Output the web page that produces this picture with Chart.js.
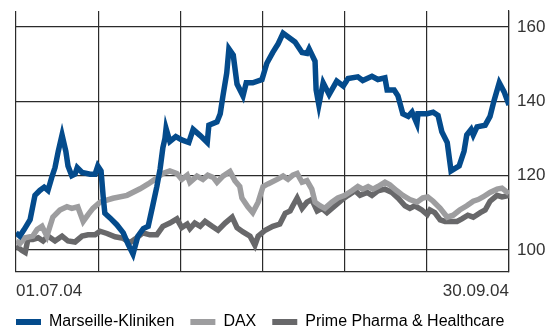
<!DOCTYPE html>
<html>
<head>
<meta charset="utf-8">
<script src="https://cdn.jsdelivr.net/npm/chart.js@4"></script>
<style>
  html, body { margin: 0; padding: 0; background: #fff; }
  #wrap { width: 553px; height: 329px; }
</style>
</head>
<body>
<div id="wrap"><canvas id="myChart"></canvas></div>
<script>
// Kursverlauf 01.07.04 - 30.09.04, indexiert (x = Tage seit 01.07.04)
var namen = ['Marseille-Kliniken', 'DAX', 'Prime Pharma & Healthcare'];
var farben = ['#044b8c', '#9d9d9f', '#68686a'];

var mkTag = [0,0.7,1.5,2.6,3.5,4.4,5.2,5.9,6.6,7.2,7.8,8.5,9.2,9.6,10.3,10.9,11.3,12.2,13.7,14.6,15.1,15.7,16.1,16.4,17.4,18.6,19.8,20.7,21.6,22.5,23.5,24.4,25.3,26.0,26.6,27.1,27.5,27.7,28.4,29.5,30.6,31.9,32.7,34.0,35.3,35.6,37.1,37.7,38.2,38.9,39.3,40.1,40.8,41.9,42.5,43.7,45.4,46.3,47.4,48.4,49.3,51.5,52.8,53.7,54.1,55.2,55.4,55.9,56.7,57.8,59.2,60.4,61.3,63.1,64.0,65.7,66.8,68.1,68.5,69.8,70.5,71.4,72.4,73.1,74.0,74.2,75.9,77.0,77.9,78.6,79.6,80.3,81.8,82.7,83.2,84.0,84.4,85.1,86.6,87.5,88.2,89.2,90.1,91];
var mkWert = [102,101,103,106,113.5,115,116,115,119,122,127,132,127,122.5,119.5,120,122,120.5,120,120,122.5,121,113,108,106.5,104.5,102,98.5,95.5,101,103.3,104,110.8,116.2,121.6,128,131,134,130,131.5,130.5,129.7,133.7,131.8,129.7,135,136,138.5,144,151,158.4,156.5,147.6,144,148,148,149,154,157.3,160,163.2,160.5,157.3,157,158.4,154.6,145.8,141.2,148,144.4,148.5,147,149.3,149.8,148.7,150,149,149.5,145.8,145.8,144,138.5,137.7,139,135.5,138.5,138.5,139,138,133,129.7,121,122.5,127,132,133.7,132,134.5,135,137.7,142.3,148,145.2,141.2];

var daxTag = [0,0.7,1.7,3.1,3.9,4.8,5.7,6.8,8.1,9.4,10.3,11.4,12.4,13.3,14.2,15.5,17.9,20.5,22.9,24.4,25.3,26.2,27.1,28.4,29.7,30.6,31.6,32.1,33.4,34.5,35.4,36.4,37.1,38.2,39.5,40.4,41.3,41.7,42.8,43.7,44.7,45.6,46.5,48.2,49.3,50.2,51.1,51.9,52.8,53.7,54.6,55.2,56.1,57.0,58.3,59.4,60.7,62.0,63.1,64.0,65.0,65.9,66.8,68.1,69.0,70.3,71.4,72.7,74.0,75.1,76.0,77.0,78.3,79.6,80.7,81.9,83.2,84.4,85.3,86.2,87.5,88.8,89.7,91];
var daxWert = [99.5,98.7,100.5,101,103,104,101,106.8,109,110,109.5,110,105.5,107.6,109.5,111.4,112.6,113.5,115.5,117,118,119,120.2,121,120.2,118.4,119.7,117.5,119.4,118.4,119.7,119,117.5,119.4,120.8,118,116.2,112.7,110,108.2,111.4,116.2,117,118.4,119.4,118.4,119.7,120.2,117.5,118,115.4,111.4,110.3,109.5,111.4,112.7,113.5,114.9,116.2,115.4,116.2,115.4,116.2,117.5,116.7,114.9,113.5,112.2,111.4,112.7,113,111.7,109.5,106.8,107.4,109,110.3,111.7,112.2,113,114.4,115.4,115.7,114];

var ppTag = [0,1.1,1.7,2.2,3.1,4.1,5.0,5.9,7.2,8.5,9.6,10.9,12.2,13.3,14.6,15.5,16.8,18.3,19.8,21.0,22.3,23.4,24.7,26.0,27.1,28.4,29.7,30.6,31.6,32.1,33.0,34.0,34.9,36.2,37.3,38.6,39.9,40.8,41.9,43.2,44.1,44.7,46.0,47.4,48.7,49.7,50.6,51.1,51.9,52.8,53.7,54.6,55.6,56.5,57.4,58.9,60.2,61.3,62.6,63.5,64.8,65.7,66.8,68.1,69.4,70.5,71.8,72.7,73.6,74.9,75.9,76.4,77.3,78.3,79.2,80.1,81.4,82.3,83.4,84.4,85.7,86.6,87.5,88.8,89.7,91];
var ppWert = [98,96.6,96,100,100,100.5,99.5,101,99.5,101,99.5,99.2,101,101.4,101.4,102.5,101.8,100.8,100.3,99,100.5,102,101.4,101.4,104,105,106.3,103.6,104.7,103.3,105,104,105.5,104,102.8,105,106.8,103.6,102.3,101,98.2,101,102.8,104,104.7,108,108.7,110.3,112.7,109.5,111.4,112.2,108.7,109.5,108.2,110.3,112.2,113.5,114.9,113.5,114.4,113.5,114.9,115.4,114.4,112.7,110.3,109.5,110.3,109,107.6,109,108.2,106,105.5,105.5,105.5,106.3,107.4,106.8,108.2,109,111.7,113.5,113,113.5];

var xTicks = [0, 91/6, 2*91/6, 3*91/6, 4*91/6, 5*91/6, 91];
var xLabels = ['01.07.04', '', '', '', '', '', '30.09.04'];
var yTicks = [100, 120, 140, 160];

function punkte(tage, werte){
    return tage.map(function(t, i){ return {x: t, y: werte[i]}; });
}

var reihen = [punkte(mkTag, mkWert), punkte(daxTag, daxWert), punkte(ppTag, ppWert)];

var gitter = '#2b2b2b';
var schrift = 'Liberation Sans, Arial, sans-serif';

const ctx = document.getElementById('myChart');
const myChart = new Chart(ctx, {
    type: 'line',
    data: {
        datasets: reihen.map(function(r, i){
            return {
                label: namen[i],
                data: r,
                borderColor: farben[i],
                backgroundColor: farben[i],
                borderWidth: 5.5,
                pointRadius: 0,
                tension: 0,
                borderJoinStyle: 'miter'
            };
        })
    },
    options: {
        responsive: true,
        maintainAspectRatio: false,
        animation: false,
        layout: { padding: { left: 0, top: 11, right: 0, bottom: -11 } },
        plugins: {
            tooltip: { enabled: false },
            legend: {
                position: 'bottom',
                align: 'start',
                labels: {
                    boxWidth: 25,
                    boxHeight: 6,
                    padding: 16,
                    color: '#333',
                    font: { family: schrift, size: 16 },
                    generateLabels: function(chart){
                        return chart.data.datasets.map(function(ds, i){
                            return { text: ds.label, fillStyle: ds.borderColor, strokeStyle: ds.borderColor, lineWidth: 0, datasetIndex: i };
                        });
                    }
                }
            }
        },
        scales: {
            x: {
                type: 'linear',
                min: 0,
                max: 91,
                afterBuildTicks: function(s){ s.ticks = xTicks.map(function(v){ return {value: v}; }); },
                afterFit: function(s){ s.height = 26; s.paddingLeft = 0; s.paddingRight = 0; },
                grid: { color: gitter, lineWidth: 1.2, drawTicks: false },
                border: { color: gitter, width: 1.2 },
                ticks: {
                    align: 'inner',
                    maxRotation: 0,
                    autoSkip: false,
                    padding: 9,
                    color: '#333',
                    font: { family: schrift, size: 17 },
                    callback: function(v, i){ return xLabels[i]; }
                }
            },
            yl: {
                position: 'left',
                display: true,
                grid: { display: false },
                border: { display: false },
                ticks: { display: false },
                afterFit: function(s){ s.width = 16; s.paddingTop = 0; s.paddingBottom = 0; }
            },
            y: {
                position: 'right',
                min: 94.1,
                max: 164.3,
                afterBuildTicks: function(s){ s.ticks = yTicks.map(function(v){ return {value: v}; }); },
                afterFit: function(s){ s.width = 44; s.paddingTop = 0; s.paddingBottom = 0; },
                grid: { color: gitter, lineWidth: 1.2, drawTicks: false },
                border: { color: gitter, width: 1.2 },
                ticks: {
                    padding: 8,
                    color: '#333',
                    font: { family: schrift, size: 17 }
                }
            }
        }
    }
});
</script>
</body>
</html>
